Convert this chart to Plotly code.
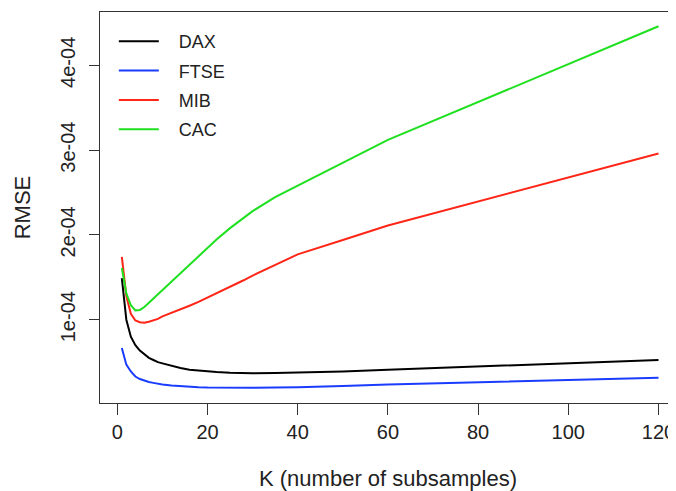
import plotly.graph_objects as go

K = [1, 2, 3, 4, 5, 6, 7, 8, 9, 10, 12, 14, 16, 18, 20, 22, 25, 28, 30, 35, 40, 50, 60, 120]
DAX = [1.49, 1.00, 0.80, 0.70, 0.635, 0.59, 0.55, 0.525, 0.50, 0.485, 0.455, 0.43, 0.41, 0.40, 0.39,
       0.383, 0.375, 0.37, 0.368, 0.37, 0.375, 0.39, 0.41, 0.525]
FTSE = [0.666, 0.47, 0.39, 0.33, 0.30, 0.28, 0.265, 0.255, 0.245, 0.237, 0.225, 0.215, 0.208, 0.203, 0.20,
        0.198, 0.197, 0.197, 0.198, 0.20, 0.203, 0.218, 0.235, 0.316]
MIB = [1.74, 1.28, 1.07, 0.99, 0.97, 0.965, 0.975, 0.99, 1.01, 1.04, 1.08, 1.12, 1.165, 1.21, 1.26,
       1.31, 1.39, 1.465, 1.52, 1.645, 1.77, 1.94, 2.11, 2.96]
CAC = [1.61, 1.31, 1.17, 1.11, 1.115, 1.15, 1.20, 1.25, 1.30, 1.35, 1.45, 1.55, 1.65, 1.75, 1.85,
       1.945, 2.08, 2.20, 2.28, 2.445, 2.58, 2.85, 3.12, 4.46]
SCALE = 1e-4

series_names = ["DAX", "FTSE", "MIB", "CAC"]
series_values = [DAX, FTSE, MIB, CAC]
series_colors = ["#000000", "#1A3CFF", "#FF2617", "#1FE01F"]

x_tick_vals = [0, 20, 40, 60, 80, 100, 120]
y_tick_vals = [1e-4, 2e-4, 3e-4, 4e-4]
y_tick_text = ["1e-04", "2e-04", "3e-04", "4e-04"]

fig = go.Figure()
for name, vals, col in zip(series_names, series_values, series_colors):
    fig.add_trace(go.Scatter(
        x=K, y=[v * SCALE for v in vals], mode="lines",
        name="\u00a0\u00a0\u00a0" + name,
        legendgroup=name,
        line=dict(color=col, width=2),
    ))

font = "Liberation Sans, Arial, Helvetica, sans-serif"
# the page body has an 8px margin, so the figure is sized and placed to compensate
fig.update_layout(
    width=668, height=483,
    margin=dict(l=92, r=0, t=4, b=88, autoexpand=False),
    paper_bgcolor="white", plot_bgcolor="white",
    font=dict(family=font, color="#222222"),
    showlegend=True,
    legend=dict(
        x=0.024, y=0.972, xanchor="left", yanchor="top",
        xref="paper", yref="paper",
        bgcolor="rgba(0,0,0,0)", borderwidth=0,
        font=dict(size=18, family=font, color="#222222"),
        itemwidth=40, tracegroupgap=3,
        traceorder="grouped",
    ),
    xaxis=dict(
        range=[-3.84, 123.88], automargin=False,
        tickvals=x_tick_vals,
        ticks="outside", ticklen=11, tickwidth=1, tickcolor="#333333",
        showline=True, linecolor="#333333", linewidth=1, mirror=True,
        showgrid=False, zeroline=False,
        tickfont=dict(size=20, family=font, color="#222222"),
        title=dict(text="K (number of subsamples)", font=dict(size=22, family=font, color="#222222"), standoff=30),
    ),
    yaxis=dict(
        range=[0.0177e-4, 4.6285e-4], automargin=False,
        tickvals=y_tick_vals, ticktext=y_tick_text, tickangle=-90,
        ticks="outside", ticklen=10, tickwidth=1, tickcolor="#333333",
        ticklabelstandoff=6,
        showline=True, linecolor="#333333", linewidth=1, mirror=False,
        showgrid=False, zeroline=False,
        tickfont=dict(size=20, family=font, color="#222222"),
        title=dict(text="RMSE", font=dict(size=22, family=font, color="#222222"), standoff=20),
    ),
)

fig.write_html("out.html")
